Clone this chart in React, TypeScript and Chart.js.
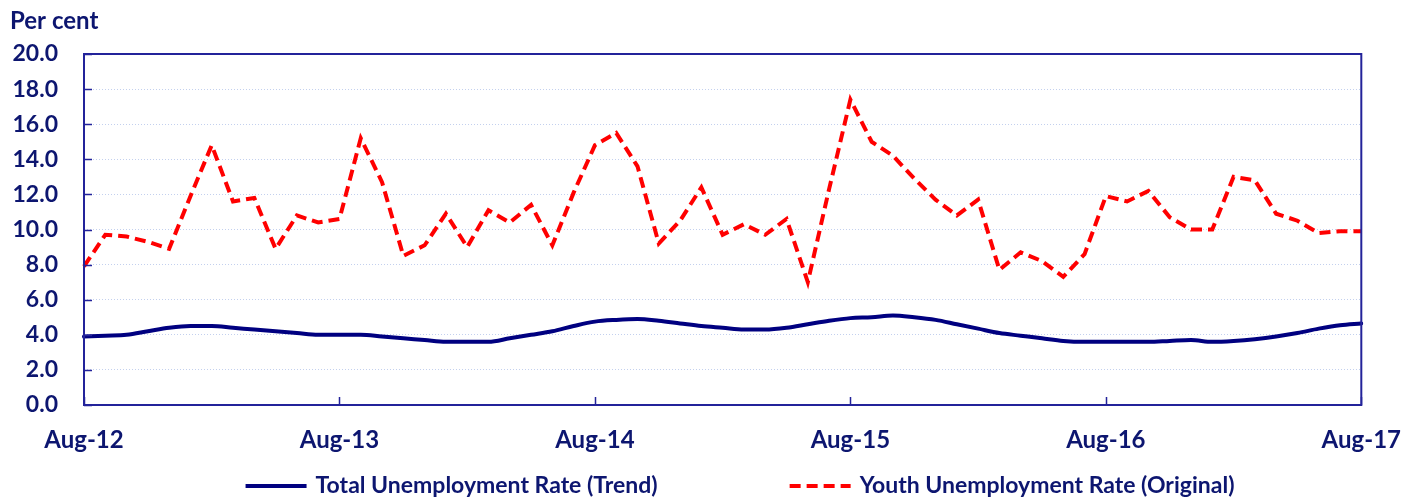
import React, { useEffect, useRef } from 'react';
import { Chart, registerables } from 'chart.js';

Chart.register(...registerables);

const MONTH_NAMES = ['Jan', 'Feb', 'Mar', 'Apr', 'May', 'Jun', 'Jul', 'Aug', 'Sep', 'Oct', 'Nov', 'Dec'];
const START_YEAR = 2012;
const START_MONTH = 7; // Aug
const MONTH_COUNT = 61;

const categories: string[] = [];
for (let i = 0; i < MONTH_COUNT; i++) {
  const m = (START_MONTH + i) % 12;
  const y = START_YEAR + Math.floor((START_MONTH + i) / 12);
  categories.push(`${MONTH_NAMES[m]}-${String(y).slice(2)}`);
}

const totalTrend = [
  3.9, 3.95, 4.0, 4.2, 4.4, 4.5, 4.5, 4.4, 4.3, 4.2, 4.1, 4.0,
  4.0, 4.0, 3.9, 3.8, 3.7, 3.6, 3.6, 3.6, 3.8, 4.0, 4.2, 4.5,
  4.75, 4.85, 4.9, 4.8, 4.65, 4.5, 4.4, 4.3, 4.3, 4.4, 4.6, 4.8,
  4.95, 5.0, 5.1, 5.0, 4.85, 4.6, 4.35, 4.1, 3.95, 3.8, 3.65, 3.6,
  3.6, 3.6, 3.6, 3.65, 3.7, 3.6, 3.65, 3.75, 3.9, 4.1, 4.35, 4.55,
  4.65,
];

const youthOriginal = [
  7.9, 9.7, 9.6, 9.3, 8.9, 11.9, 14.8, 11.6, 11.8, 8.9, 10.8, 10.4,
  10.6, 15.2, 12.7, 8.5, 9.1, 10.9, 9.0, 11.1, 10.4, 11.4, 9.1, 12.1,
  14.8, 15.5, 13.6, 9.2, 10.5, 12.4, 9.7, 10.3, 9.7, 10.6, 7.0, 12.3,
  17.4, 15.0, 14.2, 12.9, 11.7, 10.8, 11.7, 7.7, 8.7, 8.2, 7.3, 8.6,
  11.9, 11.6, 12.2, 10.7, 10.0, 10.0, 13.0, 12.8, 10.9, 10.5, 9.8, 9.9,
  9.9,
];

const seriesLabels = ['Total Unemployment Rate (Trend)', 'Youth Unemployment Rate (Original)'];
const yTicks = [0, 2, 4, 6, 8, 10, 12, 14, 16, 18, 20];

const NAVY = '#0d1670';
const FRAME = '#23239a';
const FONT = 'Lato';

const framePlugin = {
  id: 'frameAndTicks',
  afterDatasetsDraw(chart: any) {
    const { ctx, chartArea } = chart;
    const xs = chart.scales.x;
    const ys = chart.scales.y;
    ctx.save();
    ctx.strokeStyle = FRAME;
    ctx.lineWidth = 2;
    ctx.strokeRect(chartArea.left, chartArea.top, chartArea.right - chartArea.left, chartArea.bottom - chartArea.top);
    ctx.lineWidth = 1.5;
    ctx.beginPath();
    yTicks.forEach((v) => {
      const py = Math.round(ys.getPixelForValue(v)) + 0.5;
      ctx.moveTo(chartArea.left, py);
      ctx.lineTo(chartArea.left + 8, py);
    });
    categories.forEach((_, i) => {
      if (i % 12 === 0) {
        const px = Math.round(xs.getPixelForValue(i)) + 0.5;
        ctx.moveTo(px, chartArea.bottom);
        ctx.lineTo(px, chartArea.bottom - 8);
      }
    });
    ctx.stroke();
    ctx.restore();
  },
};

const legendPlugin = {
  id: 'customLegend',
  afterDraw(chart: any) {
    const { ctx } = chart;
    const sampleW = 61;
    const textGap = 9;
    const itemGap = 132;
    const centerX = 740;
    const cy = 486;
    ctx.save();
    ctx.font = `bold 23px ${FONT}`;
    const items = chart.data.datasets.map((ds: any) => ({
      label: ds.label,
      color: ds.borderColor,
      dash: ds.borderDash || [],
      width: ds.borderWidth,
      textW: ctx.measureText(ds.label).width,
    }));
    const total = items.reduce((s: number, it: any) => s + sampleW + textGap + it.textW, 0) + itemGap * (items.length - 1);
    let x = centerX - total / 2;
    items.forEach((it: any) => {
      ctx.beginPath();
      ctx.setLineDash(it.dash);
      ctx.strokeStyle = it.color;
      ctx.lineWidth = it.width;
      ctx.moveTo(x, cy);
      ctx.lineTo(x + sampleW, cy);
      ctx.stroke();
      ctx.setLineDash([]);
      ctx.fillStyle = NAVY;
      ctx.textBaseline = 'middle';
      ctx.textAlign = 'left';
      ctx.fillText(it.label, x + sampleW + textGap, cy);
      x += sampleW + textGap + it.textW + itemGap;
    });
    ctx.restore();
  },
};

export default function App() {
  const canvasRef = useRef<HTMLCanvasElement | null>(null);

  useEffect(() => {
    if (!canvasRef.current) return;
    const chart = new Chart(canvasRef.current, {
      type: 'line',
      data: {
        labels: categories,
        datasets: [
          {
            label: seriesLabels[0],
            data: totalTrend,
            borderColor: '#000080',
            backgroundColor: '#000080',
            borderWidth: 4,
            pointRadius: 0,
            tension: 0.4,
            cubicInterpolationMode: 'monotone',
            borderCapStyle: 'round',
          },
          {
            label: seriesLabels[1],
            data: youthOriginal,
            borderColor: '#ff0000',
            backgroundColor: '#ff0000',
            borderWidth: 4,
            borderDash: [11, 6],
            pointRadius: 0,
            tension: 0,
            borderCapStyle: 'butt',
          },
        ],
      },
      options: {
        animation: false,
        responsive: false,
        maintainAspectRatio: false,
        layout: { padding: { left: 10, right: 57, top: 0, bottom: 43 } },
        plugins: {
          legend: { display: false },
          tooltip: { enabled: false },
          title: {
            display: true,
            text: 'Per cent',
            align: 'start',
            color: NAVY,
            font: { family: FONT, size: 24, weight: 'bold', lineHeight: 1.2 },
            padding: { top: 7, bottom: 18.2 },
          },
        },
        scales: {
          x: {
            type: 'category',
            offset: false,
            grid: { display: false, drawTicks: false },
            border: { display: false },
            ticks: {
              autoSkip: false,
              maxRotation: 0,
              minRotation: 0,
              padding: 21,
              color: NAVY,
              font: { family: FONT, size: 24, weight: 'bold' },
              callback: (_v: any, i: number) => (i % 12 === 0 ? categories[i] : ''),
            },
            afterFit: (s: any) => {
              s.height = 50;
            },
          },
          y: {
            min: 0,
            max: 20,
            grid: { color: '#c3d0ee', lineWidth: 1, drawTicks: false },
            border: { display: false, dash: [1, 2] },
            ticks: {
              stepSize: 2,
              padding: 26,
              color: NAVY,
              font: { family: FONT, size: 23, weight: 'bold' },
              callback: (v: any) => Number(v).toFixed(1),
            },
            afterFit: (s: any) => {
              s.width = 74;
            },
          },
        },
      },
      plugins: [framePlugin, legendPlugin],
    });
    return () => chart.destroy();
  }, []);

  return (
    <div style={{ position: 'fixed', left: 0, top: 0, width: 1422, height: 498, background: '#ffffff' }}>
      <canvas ref={canvasRef} width={1422} height={498} style={{ width: 1422, height: 498, display: 'block' }} />
    </div>
  );
}
